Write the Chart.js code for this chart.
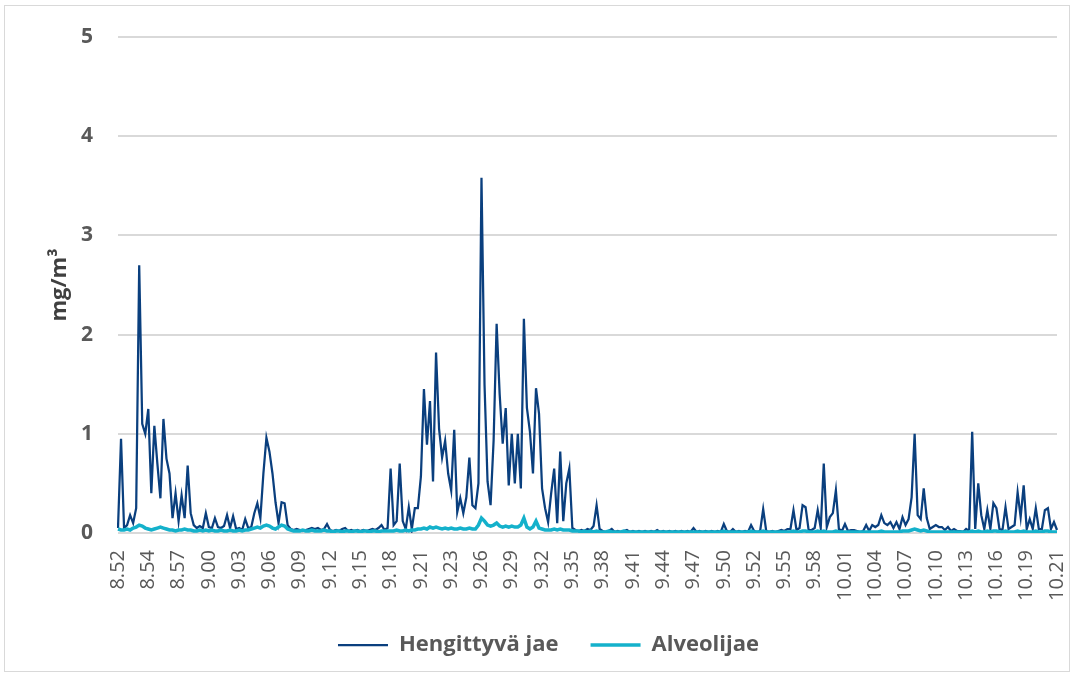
<!DOCTYPE html>
<html>
<head>
<meta charset="utf-8">
<script src="https://cdn.jsdelivr.net/npm/chart.js@4.4.1/dist/chart.umd.min.js"></script>
<style>
  body { margin: 0; background: #fff; }
  #wrap { position: absolute; left: 4px; top: 5px; width: 1066px; height: 667px; box-sizing: border-box; border: 1px solid #d9d9d9; }
</style>
</head>
<body>
<div id="wrap"><canvas id="chart"></canvas></div>
<script>
// tick labels shown every 10th sample
const timeLabels = ['8.52','8.54','8.57','9.00','9.03','9.06','9.09','9.12','9.15','9.18','9.21','9.23','9.26','9.29','9.32','9.35',
  '9.38','9.41','9.44','9.47','9.50','9.52','9.55','9.58','10.01','10.04','10.07','10.10','10.13','10.16','10.19','10.21'];

// Hengittyvä jae, mg/m3
const hengittyva = [
  0.05,0.95,0.05,0.08,0.18,0.10,0.25,2.70,1.10,1.00,
  1.25,0.40,1.08,0.70,0.35,1.15,0.75,0.60,0.15,0.40,
  0.12,0.38,0.15,0.68,0.20,0.08,0.05,0.07,0.05,0.20,
  0.06,0.05,0.15,0.06,0.05,0.07,0.18,0.05,0.17,0.04,
  0.05,0.03,0.14,0.05,0.06,0.20,0.30,0.15,0.60,0.96,
  0.82,0.60,0.31,0.10,0.31,0.30,0.08,0.04,0.03,0.04,
  0.03,0.02,0.03,0.04,0.05,0.04,0.05,0.03,0.04,0.09,
  0.03,0.02,0.03,0.02,0.04,0.05,0.02,0.03,0.02,0.03,
  0.02,0.03,0.02,0.03,0.04,0.03,0.05,0.08,0.03,0.05,
  0.65,0.08,0.12,0.70,0.12,0.04,0.26,0.04,0.25,0.25,
  0.57,1.45,0.89,1.33,0.52,1.82,1.05,0.76,0.93,0.60,
  0.43,1.04,0.21,0.35,0.20,0.36,0.76,0.28,0.25,0.50,
  3.58,1.50,0.52,0.28,0.93,2.11,1.40,0.90,1.26,0.48,
  1.00,0.50,1.00,0.45,2.16,1.26,1.02,0.60,1.46,1.20,
  0.45,0.25,0.11,0.40,0.65,0.10,0.82,0.12,0.50,0.65,
  0.05,0.03,0.02,0.03,0.02,0.04,0.03,0.07,0.28,0.04,
  0.02,0.01,0.02,0.04,0.01,0.02,0.01,0.02,0.03,0.01,
  0.02,0.01,0.02,0.01,0.02,0.01,0.02,0.01,0.03,0.01,
  0.02,0.01,0.02,0.01,0.02,0.01,0.02,0.01,0.02,0.01,
  0.05,0.01,0.02,0.01,0.02,0.01,0.02,0.01,0.02,0.01,
  0.09,0.02,0.01,0.04,0.01,0.02,0.01,0.02,0.01,0.08,
  0.02,0.01,0.02,0.24,0.02,0.01,0.02,0.01,0.02,0.03,
  0.02,0.04,0.04,0.23,0.03,0.05,0.28,0.26,0.03,0.03,
  0.05,0.23,0.05,0.70,0.06,0.16,0.20,0.43,0.04,0.02,
  0.09,0.02,0.03,0.03,0.02,0.01,0.02,0.08,0.02,0.08,
  0.06,0.08,0.18,0.10,0.08,0.11,0.05,0.11,0.04,0.16,
  0.08,0.14,0.36,1.00,0.18,0.14,0.45,0.15,0.04,0.06,
  0.08,0.06,0.06,0.03,0.06,0.02,0.04,0.02,0.02,0.01,
  0.04,0.02,1.02,0.04,0.50,0.18,0.04,0.23,0.04,0.30,
  0.25,0.04,0.03,0.26,0.04,0.06,0.08,0.41,0.16,0.48,
  0.04,0.14,0.04,0.25,0.04,0.04,0.23,0.25,0.04,0.11,
  0.03
];

// Alveolijae, mg/m3
const alveoli = [
  0.04,0.03,0.03,0.04,0.03,0.05,0.06,0.08,0.07,0.05,
  0.04,0.03,0.04,0.05,0.06,0.05,0.04,0.03,0.03,0.02,
  0.03,0.03,0.04,0.03,0.03,0.02,0.02,0.03,0.02,0.03,
  0.02,0.03,0.02,0.02,0.03,0.02,0.02,0.03,0.02,0.02,
  0.03,0.02,0.03,0.03,0.04,0.05,0.06,0.05,0.07,0.08,
  0.07,0.05,0.04,0.06,0.08,0.07,0.04,0.03,0.02,0.02,
  0.02,0.03,0.02,0.02,0.03,0.02,0.02,0.02,0.03,0.02,
  0.02,0.01,0.02,0.02,0.01,0.02,0.02,0.01,0.02,0.02,
  0.01,0.02,0.02,0.01,0.02,0.02,0.01,0.02,0.02,0.02,
  0.02,0.02,0.03,0.02,0.02,0.03,0.02,0.03,0.03,0.04,
  0.04,0.05,0.04,0.06,0.05,0.06,0.05,0.04,0.05,0.04,
  0.05,0.04,0.04,0.05,0.04,0.04,0.05,0.04,0.04,0.08,
  0.15,0.12,0.08,0.07,0.08,0.10,0.07,0.06,0.07,0.06,
  0.07,0.06,0.06,0.08,0.15,0.06,0.04,0.06,0.12,0.05,
  0.04,0.03,0.03,0.03,0.04,0.03,0.04,0.03,0.03,0.03,
  0.02,0.02,0.02,0.01,0.02,0.01,0.02,0.01,0.02,0.01,
  0.01,0.01,0.02,0.01,0.01,0.01,0.01,0.02,0.01,0.01,
  0.01,0.01,0.01,0.01,0.01,0.01,0.01,0.01,0.01,0.01,
  0.01,0.01,0.01,0.01,0.01,0.01,0.01,0.01,0.01,0.01,
  0.01,0.01,0.01,0.01,0.01,0.01,0.01,0.01,0.01,0.01,
  0.02,0.01,0.01,0.01,0.01,0.01,0.01,0.01,0.01,0.02,
  0.01,0.01,0.01,0.02,0.01,0.01,0.01,0.01,0.01,0.01,
  0.01,0.01,0.01,0.02,0.01,0.01,0.02,0.02,0.01,0.01,
  0.01,0.02,0.01,0.02,0.01,0.01,0.01,0.02,0.01,0.01,
  0.01,0.01,0.01,0.01,0.01,0.01,0.01,0.01,0.01,0.01,
  0.01,0.01,0.02,0.01,0.01,0.01,0.01,0.01,0.01,0.02,
  0.02,0.02,0.03,0.04,0.03,0.02,0.03,0.02,0.01,0.01,
  0.01,0.01,0.01,0.01,0.01,0.01,0.01,0.01,0.01,0.01,
  0.01,0.01,0.02,0.01,0.02,0.01,0.01,0.02,0.01,0.02,
  0.02,0.01,0.01,0.02,0.01,0.01,0.01,0.02,0.01,0.02,
  0.01,0.01,0.01,0.02,0.01,0.01,0.02,0.02,0.01,0.01,
  0.01
];

const LABEL_EVERY = 10;
const labels = hengittyva.map((_, i) => (i % LABEL_EVERY === 0 ? timeLabels[i / LABEL_EVERY] : ''));

const grey = '#595959';
const fontFamily = '"Open Sans", "DejaVu Sans", sans-serif';

// pin the legend block height so the axes above keep their place
const legendHeight = {
  id: 'legendHeight',
  beforeInit(chart) {
    const origFit = chart.legend.fit;
    chart.legend.fit = function () {
      origFit.call(this);
      this.height = 69;
    };
  }
};

new Chart(document.getElementById('chart'), {
  type: 'line',
  data: {
    labels: labels,
    datasets: [
      { label: 'Hengittyvä jae', data: hengittyva, borderColor: '#0a3f7e', backgroundColor: '#0a3f7e',
        borderWidth: 2.25, pointRadius: 0, tension: 0, order: 1 },
      { label: 'Alveolijae', data: alveoli, borderColor: '#14b1cb', backgroundColor: '#14b1cb',
        borderWidth: 3.5, pointRadius: 0, tension: 0, order: 0 }
    ]
  },
  options: {
    responsive: true,
    maintainAspectRatio: false,
    animation: false,
    // left padding shifts the legend to the right; y axis width is pinned below
    layout: { padding: { left: 23, right: 0, top: 31, bottom: 0 } },
    plugins: {
      tooltip: { enabled: false },
      legend: {
        position: 'bottom',
        labels: {
          usePointStyle: true,
          pointStyle: 'line',
          pointStyleWidth: 50,
          boxHeight: 22,
          padding: 32,
          color: grey,
          font: { family: fontFamily, size: 22, weight: 'bold' },
          sort: (a, b) => a.datasetIndex - b.datasetIndex
        }
      }
    },
    scales: {
      x: {
        grid: { display: false, drawTicks: false },
        border: { display: false },
        afterFit(scale) {
          scale.height = 69;
          scale.paddingLeft = 0;
          scale.paddingRight = 12;
        },
        ticks: {
          autoSkip: false,
          minRotation: 90,
          maxRotation: 90,
          padding: 17,
          color: grey,
          font: { family: fontFamily, size: 20 }
        }
      },
      y: {
        min: 0,
        max: 5,
        grid: { color: '#d9d9d9', lineWidth: 2, drawTicks: false },
        border: { display: false },
        afterFit(scale) {
          scale.width = 90;
          scale.paddingTop = 0;
        },
        ticks: {
          stepSize: 1,
          padding: 25,
          color: grey,
          font: { family: fontFamily, size: 21, weight: 'bold' }
        },
        title: {
          display: true,
          text: 'mg/m³',
          color: '#404040',
          padding: { top: 19, bottom: 0 },
          font: { family: fontFamily, size: 22, weight: 'bold' }
        }
      }
    }
  },
  plugins: [legendHeight]
});
</script>
</body>
</html>
